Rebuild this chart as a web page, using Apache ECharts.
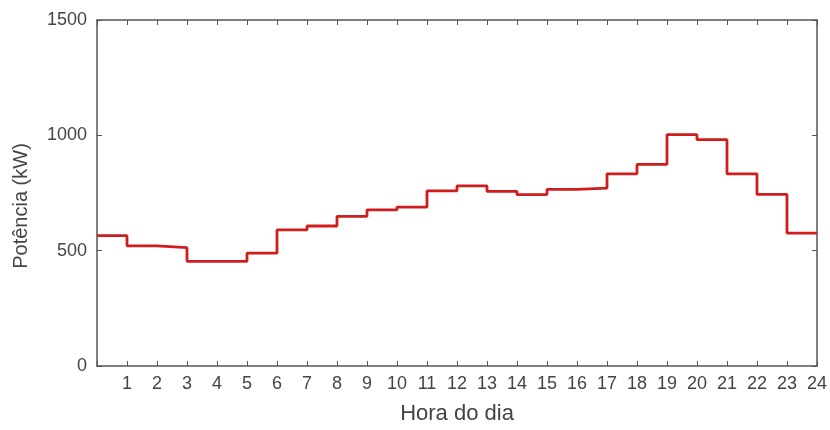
<!DOCTYPE html>
<html>
<head>
<meta charset="utf-8">
<script src="https://cdn.jsdelivr.net/npm/echarts@6/dist/echarts.min.js"></script>
<style>
    html, body { margin: 0; padding: 0; background: #fff; }
    #chart { width: 830px; height: 430px; }
</style>
</head>
<body>
<div id="chart"></div>
<script>
// hora de início de cada degrau e potência média nessa hora (kW)
var hours = [0, 1, 2, 3, 4, 5, 6, 7, 8, 9, 10, 11, 12, 13, 14, 15, 16, 17, 18, 19, 20, 21, 22, 23];
var power = [565, 521, 513, 454, 454, 489, 590, 607, 649, 677, 689, 759, 781, 757, 743, 766, 771, 833, 874, 1003, 981, 833, 744, 576];
var endHour = 24;
var yMax = 1500;
var yStep = 500;

var myChart = echarts.init(document.getElementById('chart'));

function buildData() {
    var data = [];
    for (var i = 0; i < hours.length; i++) {
        data.push([hours[i], power[i]]);
    }
    // fecha o último degrau até as 24h
    data.push([endHour, power[power.length - 1]]);
    return data;
}

var axisColor = '#555';
var labelColor = '#444';
var fontFamily = 'Liberation Sans, Arial, sans-serif';

var option = {
    animation: false,
    grid: {
        left: 97,
        right: 13,
        top: 20,
        bottom: 60,
        containLabel: false
    },
    xAxis: [
        {
            type: 'value',
            min: 0,
            max: endHour,
            interval: 1,
            name: 'Hora do dia',
            nameLocation: 'middle',
            nameGap: 37,
            nameTextStyle: { color: labelColor, fontSize: 22, fontFamily: fontFamily },
            axisLine: { onZero: false, lineStyle: { color: axisColor, width: 1.5 } },
            axisTick: { inside: true, length: 5, lineStyle: { color: axisColor } },
            axisLabel: {
                color: labelColor,
                fontSize: 18,
                fontFamily: fontFamily,
                margin: 9,
                formatter: function (v) { return v === 0 ? '' : String(v); }
            },
            splitLine: { show: false }
        },
        {
            type: 'value',
            position: 'top',
            min: 0,
            max: endHour,
            interval: 1,
            axisLine: { show: true, onZero: false, lineStyle: { color: axisColor, width: 1.5 } },
            axisTick: { show: true, inside: true, length: 5, lineStyle: { color: axisColor } },
            axisLabel: { show: false },
            splitLine: { show: false }
        }
    ],
    yAxis: [
        {
            type: 'value',
            min: 0,
            max: yMax,
            interval: yStep,
            name: 'Potência (kW)',
            nameLocation: 'middle',
            nameGap: 66,
            nameTextStyle: { color: labelColor, fontSize: 20, fontFamily: fontFamily, padding: [0, 0, 0, -26] },
            axisLine: { show: true, onZero: false, lineStyle: { color: axisColor, width: 1.5 } },
            axisTick: { show: true, inside: true, length: 5, lineStyle: { color: axisColor } },
            axisLabel: {
                color: labelColor,
                fontSize: 18,
                fontFamily: fontFamily,
                margin: 10,
                formatter: function (v) { return String(v); }
            },
            splitLine: { show: false }
        },
        {
            type: 'value',
            position: 'right',
            min: 0,
            max: yMax,
            interval: yStep,
            axisLine: { show: true, onZero: false, lineStyle: { color: axisColor, width: 1.5 } },
            axisTick: { show: true, inside: true, length: 5, lineStyle: { color: axisColor } },
            axisLabel: { show: false },
            splitLine: { show: false }
        }
    ],
    series: [
        {
            name: 'Potência',
            type: 'line',
            step: 'end',
            xAxisIndex: 0,
            yAxisIndex: 0,
            data: buildData(),
            showSymbol: false,
            lineStyle: { color: '#cf1d1d', width: 2.8 },
            itemStyle: { color: '#cf1d1d' }
        }
    ]
};

myChart.setOption(option);
</script>
</body>
</html>
